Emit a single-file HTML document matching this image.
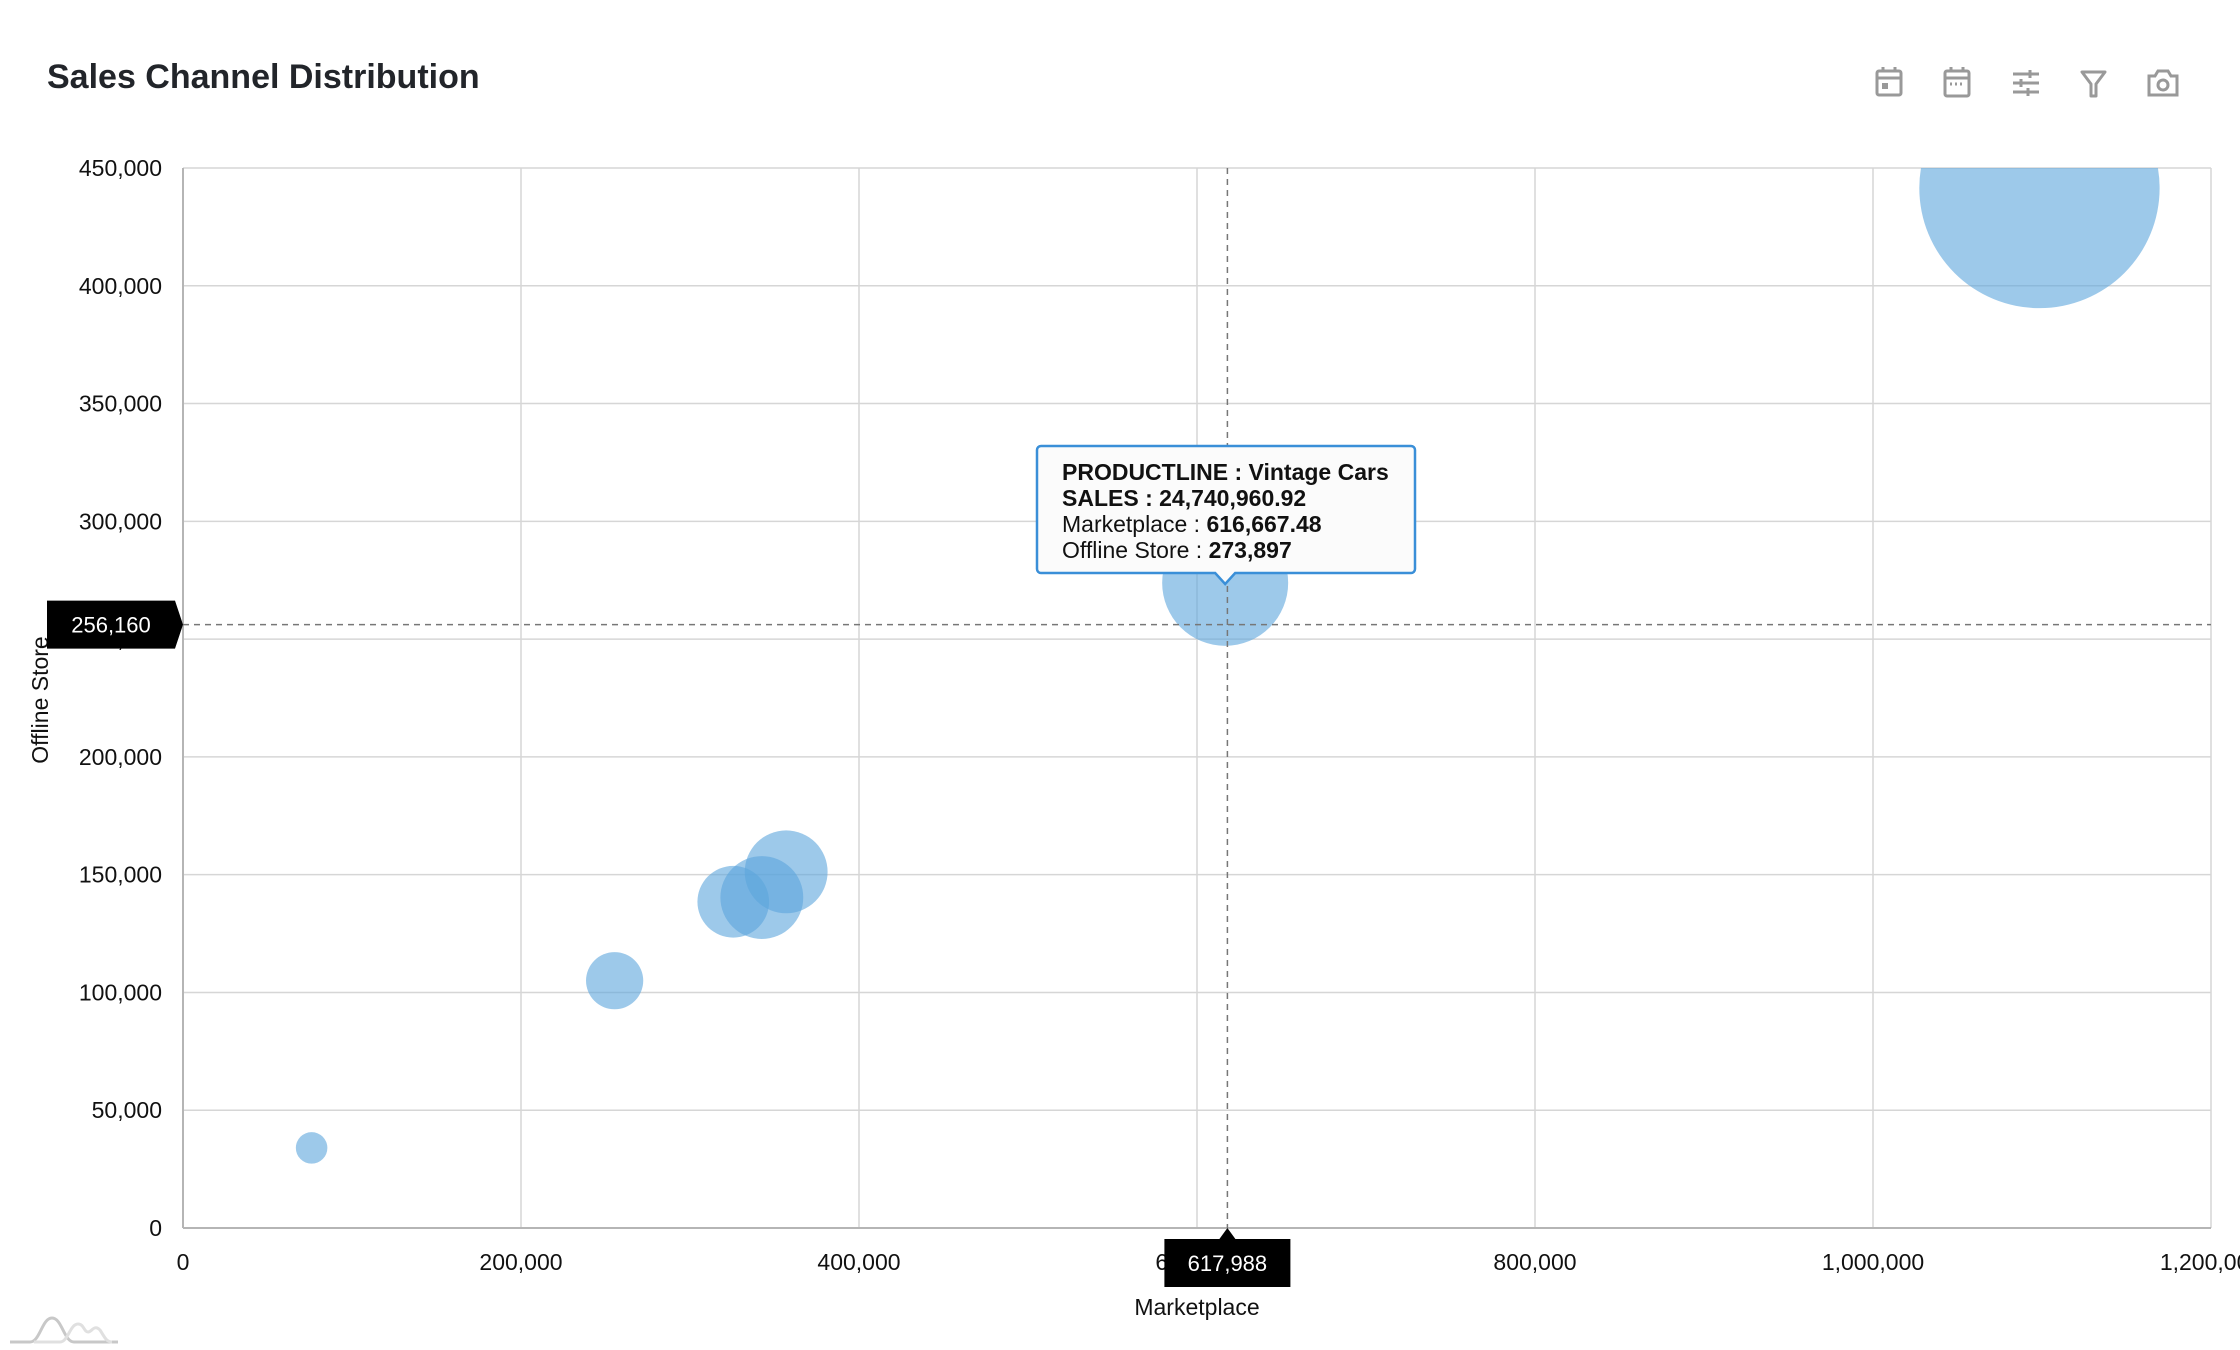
<!DOCTYPE html>
<html><head><meta charset="utf-8"><style>
body{margin:0;background:#fff;width:2240px;height:1350px;overflow:hidden;font-family:"Liberation Sans",sans-serif}
svg{display:block}
</style></head><body>
<svg id="chart" width="2240" height="1350">
<defs><clipPath id="plotclip"><rect x="183" y="168" width="2028" height="1060"/></clipPath></defs>
<text x="47" y="88" font-size="34" font-weight="bold" fill="#22252a">Sales Channel Distribution</text>
<g id="toolbar" fill="none" stroke="#999" stroke-width="3">
 <g><rect x="1877" y="71" width="24" height="24" rx="2"/><line x1="1877" y1="78" x2="1901" y2="78"/><line x1="1883" y1="67" x2="1883" y2="72"/><line x1="1895" y1="67" x2="1895" y2="72"/><rect x="1882" y="83" width="6" height="6" fill="#999" stroke="none"/></g>
 <g><rect x="1945" y="71" width="24" height="25" rx="2"/><line x1="1945" y1="78" x2="1969" y2="78"/><line x1="1951" y1="67" x2="1951" y2="72"/><line x1="1963" y1="67" x2="1963" y2="72"/><line x1="1950" y1="84" x2="1964" y2="84" stroke-dasharray="2 3"/></g>
 <g><line x1="2013" y1="74" x2="2039" y2="74"/><line x1="2013" y1="83" x2="2039" y2="83"/><line x1="2013" y1="92" x2="2039" y2="92"/><line x1="2030" y1="70" x2="2030" y2="78"/><line x1="2021" y1="79" x2="2021" y2="87"/><line x1="2028" y1="88" x2="2028" y2="96"/></g>
 <g><path d="M2082 72 L2105 72 L2096 84 L2096 96 L2091 96 L2091 84 Z" fill="none" stroke="#999" stroke-linejoin="round"/></g>
 <g><path d="M2149 76 h6 l3 -5 h10 l3 5 h6 v19 h-28 z"/><circle cx="2163" cy="85" r="5"/></g>
</g>
<g id="grid"></g><g id="bubbles" clip-path="url(#plotclip)"></g><g id="overlay"></g>
</svg>
<script>
const categories=["Trains","Ships","Planes","Trucks and Buses","Motorcycles","Vintage Cars","Classic Cars"];
const marketplace=[76100,255400,325600,342500,356900,616667.48,1098500];
const offlineStore=[34000,105000,138500,140300,151200,273897,441500];
const sales=[1550000,5100000,8000000,10700000,10700000,24740960.92,90000000];
const xTicks=[0,200000,400000,600000,800000,1000000,1200000];
const yTicks=[0,50000,100000,150000,200000,250000,300000,350000,400000,450000];
const crossX=617988, crossY=256160;
const NS="http://www.w3.org/2000/svg";
const L=183,R=2211,T=168,B=1228;
const xs=v=>L+(v-0)/1200000*(R-L);
const ys=v=>B-(v-0)/450000*(B-T);
const rs=s=>63*Math.sqrt(s/24740960.92);
const fmt=v=>v.toLocaleString('en-US');
function mk(tag,attrs,parent,text){const e=document.createElementNS(NS,tag);for(const k in attrs)e.setAttribute(k,attrs[k]);if(text!==undefined)e.textContent=text;parent.appendChild(e);return e;}
const g=document.getElementById('grid');
xTicks.forEach(v=>{const x=xs(v);
 const l=mk('line',{x1:x,y1:T,x2:x,y2:B,stroke:'#d6d6d6','stroke-width':1.5},g);
 
 
 const t=mk('text',{x:x,y:1270,'font-size':23,'text-anchor':'middle',fill:'#111'},g,fmt(v));
 
 
});
yTicks.forEach(v=>{const y=ys(v);
 const l=mk('line',{x1:L,y1:y,x2:R,y2:y,stroke:'#d6d6d6','stroke-width':1.5},g);
 
 
 const t=mk('text',{x:162,y:y+8,'font-size':23,'text-anchor':'end',fill:'#111'},g,fmt(v));
 
 
});
const ax=mk('line',{x1:L,y1:B,x2:R,y2:B,stroke:'#b5b5b5','stroke-width':2},g);


const ay=mk('line',{x1:L,y1:T,x2:L,y2:B,stroke:'#b5b5b5','stroke-width':2},g);


const xt=mk('text',{x:1197,y:1315,'font-size':23,'text-anchor':'middle',fill:'#111'},g,'Marketplace');


const yt=mk('text',{x:48,y:700,'font-size':23,'text-anchor':'middle',fill:'#111',transform:'rotate(-90 48 700)'},g,'Offline Store');


const bg=document.getElementById('bubbles');
categories.forEach((c,i)=>{
 const b=mk('circle',{cx:xs(marketplace[i]),cy:ys(offlineStore[i]),r:rs(sales[i]),fill:'#5ca5dc','fill-opacity':0.6},bg);
 
 
});
const o=document.getElementById('overlay');
const cx=xs(crossX), cy=ys(crossY);
const vl=mk('line',{x1:cx,y1:T,x2:cx,y2:B,stroke:'#777','stroke-width':1.5,'stroke-dasharray':'6 5'},o);


const hl=mk('line',{x1:L,y1:cy,x2:R,y2:cy,stroke:'#777','stroke-width':1.5,'stroke-dasharray':'6 5'},o);


const yl=mk('g',{},o);


mk('path',{d:`M47 ${cy-24} H175 L183 ${cy} L175 ${cy+24} H47 Z`,fill:'#000'},yl);
mk('text',{x:111,y:cy+8,'font-size':22,'text-anchor':'middle',fill:'#fff'},yl,fmt(crossY));
const xl=mk('g',{},o);


mk('path',{d:`M${cx-63} 1239 H${cx-8} L${cx} 1228 L${cx+8} 1239 H${cx+63} V1287 H${cx-63} Z`,fill:'#000'},xl);
mk('text',{x:cx,y:1271,'font-size':22,'text-anchor':'middle',fill:'#fff'},xl,fmt(crossX));
const i=5, tx=xs(marketplace[i]);
const tg=mk('g',{},o);


mk('path',{d:`M1041 446 H1411 a4 4 0 0 1 4 4 V569 a4 4 0 0 1 -4 4 H${tx+10} L${tx} 584 L${tx-10} 573 H1041 a4 4 0 0 1 -4 -4 V450 a4 4 0 0 1 4 -4 Z`,fill:'#fbfbfb',stroke:'#3a8fd8','stroke-width':2.5},tg);
const lines=[['PRODUCTLINE : '+categories[i],'',true],['SALES : '+fmt(sales[i]),'',true],['Marketplace : ',fmt(marketplace[i]),false],['Offline Store : ',fmt(offlineStore[i]),false]];
lines.forEach((ln,k)=>{
 const t=mk('text',{x:1062,y:480+k*26,'font-size':23,fill:'#111','font-weight':ln[2]?'bold':'normal'},tg,ln[0]);
 if(ln[1]){mk('tspan',{'font-weight':'bold'},t,ln[1]);}
});
</script>
<svg style="position:absolute;left:0;top:1300px" width="130" height="50">
<path d="M10 42 H30 C40 42 42 18 52 18 C62 18 64 42 74 42 H118" fill="none" stroke="#c8c8c8" stroke-width="3"/>
<path d="M34 42 H60 C68 42 70 24 78 24 C84 24 84 32 88 32 C92 32 94 24 100 30 C104 36 106 42 112 42" fill="none" stroke="#e0e0e0" stroke-width="3"/>
</svg>
</body></html>
